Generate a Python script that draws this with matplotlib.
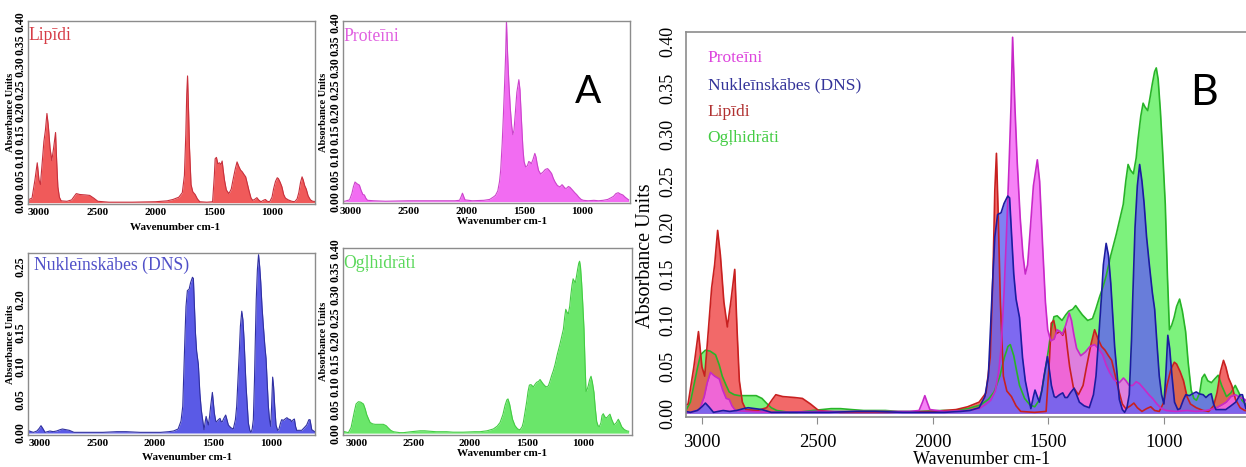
import matplotlib
matplotlib.use('Agg')
import matplotlib.pyplot as plt

W, H = 1246, 467

# spectra: wavenumber (cm-1) and absorbance
lipid_wn = [3095, 3060, 3035, 3015, 3000, 2988, 2972, 2958, 2945, 2932, 2920, 2905, 2890, 2875,
            2858, 2848, 2838, 2825, 2810, 2760, 2720, 2695, 2680, 2650, 2600, 2565, 2530, 2495,
            2400, 2200, 2000, 1900, 1850, 1800, 1770, 1752, 1740, 1732, 1725, 1718, 1708, 1695,
            1680, 1660, 1640, 1620, 1560, 1510, 1495, 1488, 1477, 1465, 1450, 1438, 1428, 1418,
            1408, 1392, 1370, 1350, 1335, 1315, 1300, 1285, 1270, 1255, 1240, 1226, 1210, 1197,
            1180, 1165, 1145, 1130, 1115, 1095, 1075, 1057, 1040, 1020, 1000, 986, 970, 955, 945,
            930, 915, 900, 885, 860, 830, 806, 785, 770, 755, 742, 732, 720, 706, 690, 670, 650, 600]
lipid_ab = [0.006, 0.010, 0.050, 0.088, 0.050, 0.040, 0.090, 0.135, 0.160, 0.197, 0.170, 0.120,
            0.093, 0.120, 0.155, 0.090, 0.035, 0.012, 0.004, 0.003, 0.006, 0.015, 0.020, 0.018,
            0.017, 0.016, 0.010, 0.003, 0.001, 0.001, 0.002, 0.004, 0.007, 0.012, 0.022, 0.060,
            0.150, 0.240, 0.280, 0.220, 0.120, 0.040, 0.024, 0.018, 0.008, 0.002, 0.001, 0.002,
            0.060, 0.097, 0.100, 0.086, 0.088, 0.084, 0.092, 0.070, 0.050, 0.028, 0.020, 0.030,
            0.050, 0.075, 0.090, 0.080, 0.072, 0.068, 0.062, 0.057, 0.040, 0.026, 0.010, 0.005,
            0.008, 0.011, 0.006, 0.002, 0.005, 0.007, 0.003, 0.002, 0.012, 0.031, 0.047, 0.055,
            0.053, 0.045, 0.035, 0.018, 0.010, 0.006, 0.003, 0.002, 0.008, 0.022, 0.045, 0.057,
            0.050, 0.038, 0.030, 0.015, 0.006, 0.003, 0.002]

protein_wn = [3095, 3050, 3010, 2990, 2977, 2963, 2945, 2925, 2910, 2895, 2882, 2870, 2855, 2800,
              2700, 2500, 2300, 2100, 2060, 2045, 2035, 2025, 2013, 1950, 1850, 1800, 1770, 1750,
              1730, 1715, 1705, 1692, 1682, 1670, 1662, 1655, 1645, 1635, 1622, 1610, 1600, 1590,
              1578, 1565, 1548, 1538, 1525, 1513, 1503, 1490, 1475, 1462, 1450, 1440, 1425, 1410,
              1400, 1390, 1378, 1360, 1340, 1320, 1300, 1285, 1265, 1250, 1235, 1215, 1193, 1175,
              1164, 1150, 1135, 1120, 1106, 1085, 1065, 1049, 1030, 1010, 990, 950, 900, 860, 820,
              780, 750, 730, 710, 690, 670, 650, 630, 600]
protein_ab = [0.001, 0.001, 0.004, 0.018, 0.033, 0.044, 0.040, 0.037, 0.025, 0.016, 0.015, 0.008,
              0.003, 0.002, 0.001, 0.002, 0.002, 0.002, 0.003, 0.012, 0.019, 0.012, 0.004, 0.002,
              0.003, 0.005, 0.010, 0.014, 0.024, 0.045, 0.070, 0.130, 0.190, 0.270, 0.330, 0.405,
              0.330, 0.270, 0.210, 0.170, 0.150, 0.160, 0.200, 0.245, 0.273, 0.250, 0.180, 0.120,
              0.090, 0.078, 0.080, 0.090, 0.088, 0.085, 0.095, 0.108, 0.100, 0.085, 0.070, 0.062,
              0.066, 0.072, 0.074, 0.070, 0.063, 0.052, 0.044, 0.036, 0.033, 0.038, 0.035, 0.030,
              0.030, 0.034, 0.032, 0.026, 0.020, 0.016, 0.010, 0.005, 0.003, 0.002, 0.003, 0.002,
              0.003, 0.005, 0.009, 0.012, 0.018, 0.020, 0.017, 0.015, 0.010, 0.004]

dna_wn = [3100, 3070, 3050, 3020, 3000, 2985, 2970, 2950, 2930, 2908, 2880, 2850, 2820, 2800,
          2770, 2740, 2700, 2600, 2450, 2330, 2250, 2130, 1950, 1880, 1840, 1800, 1775, 1760,
          1750, 1740, 1732, 1720, 1705, 1692, 1676, 1668, 1660, 1650, 1640, 1625, 1612, 1600,
          1588, 1576, 1565, 1558, 1548, 1539, 1528, 1519, 1504, 1495, 1487, 1475, 1467, 1452,
          1438, 1428, 1418, 1405, 1389, 1378, 1366, 1345, 1323, 1305, 1294, 1280, 1271, 1262,
          1250, 1240, 1230, 1213, 1200, 1193, 1180, 1170, 1160, 1150, 1140, 1135, 1125, 1115,
          1105, 1095, 1086, 1075, 1063, 1050, 1040, 1030, 1020, 1010, 1000, 992, 983, 975, 965,
          954, 940, 930, 915, 905, 890, 876, 860, 847, 830, 818, 805, 795, 785, 775, 750, 732,
          710, 689, 670, 660, 645, 620, 600]
dna_ab = [0.004, 0.002, 0.001, 0.003, 0.007, 0.011, 0.007, 0.001, 0.002, 0.003, 0.002, 0.003,
          0.005, 0.006, 0.005, 0.004, 0.001, 0.001, 0.001, 0.002, 0.002, 0.001, 0.001, 0.002,
          0.003, 0.006, 0.018, 0.040, 0.095, 0.150, 0.190, 0.214, 0.216, 0.226, 0.234, 0.232,
          0.195, 0.150, 0.123, 0.103, 0.060, 0.035, 0.020, 0.005, 0.018, 0.025, 0.018, 0.012,
          0.025, 0.040, 0.061, 0.045, 0.030, 0.018, 0.017, 0.020, 0.022, 0.017, 0.017, 0.022,
          0.027, 0.020, 0.012, 0.008, 0.006, 0.020, 0.040, 0.090, 0.123, 0.160, 0.183, 0.170,
          0.140, 0.071, 0.035, 0.015, 0.004, 0.001, 0.006, 0.020, 0.080, 0.123, 0.200, 0.245,
          0.268, 0.250, 0.227, 0.190, 0.160, 0.130, 0.112, 0.075, 0.040, 0.020, 0.010, 0.040,
          0.084, 0.070, 0.040, 0.012, 0.004, 0.005, 0.015, 0.020, 0.019, 0.021, 0.023, 0.021,
          0.020, 0.017, 0.020, 0.021, 0.010, 0.004, 0.004, 0.004, 0.008, 0.012, 0.020, 0.020,
          0.005, 0.002, 0.001]

carb_wn = [3120, 3074, 3050, 3035, 3020, 3006, 2985, 2965, 2941, 2925, 2912, 2895, 2882, 2860,
           2838, 2800, 2765, 2740, 2721, 2700, 2676, 2620, 2588, 2520, 2441, 2400, 2353, 2300,
           2206, 2150, 2059, 1960, 1912, 1850, 1794, 1760, 1735, 1710, 1691, 1675, 1665, 1650,
           1641, 1625, 1603, 1580, 1559, 1540, 1529, 1515, 1500, 1488, 1476, 1462, 1441, 1425,
           1412, 1395, 1382, 1365, 1353, 1330, 1309, 1295, 1279, 1265, 1250, 1230, 1206, 1190,
           1176, 1165, 1155, 1145, 1132, 1120, 1112, 1100, 1090, 1082, 1070, 1060, 1050, 1040,
           1033, 1025, 1015, 1005, 994, 985, 976, 966, 956, 945, 932, 920, 906, 895, 882, 870,
           859, 845, 835, 824, 810, 794, 780, 765, 750, 729, 710, 691, 675, 662, 640, 618, 600]
carb_ab = [0.004, 0.001, 0.012, 0.030, 0.048, 0.063, 0.068, 0.067, 0.063, 0.052, 0.040, 0.030,
           0.023, 0.020, 0.019, 0.019, 0.019, 0.016, 0.011, 0.006, 0.003, 0.001, 0.001, 0.003,
           0.005, 0.005, 0.004, 0.003, 0.003, 0.002, 0.002, 0.003, 0.003, 0.005, 0.009, 0.015,
           0.023, 0.040, 0.060, 0.072, 0.074, 0.062, 0.050, 0.030, 0.016, 0.009, 0.007, 0.014,
           0.024, 0.045, 0.068, 0.090, 0.104, 0.105, 0.100, 0.106, 0.110, 0.112, 0.116, 0.110,
           0.106, 0.100, 0.102, 0.112, 0.125, 0.135, 0.148, 0.170, 0.193, 0.210, 0.225, 0.250,
           0.268, 0.262, 0.258, 0.275, 0.295, 0.320, 0.334, 0.330, 0.326, 0.340, 0.355, 0.368,
           0.372, 0.360, 0.325, 0.280, 0.225, 0.150, 0.090, 0.095, 0.103, 0.115, 0.123, 0.110,
           0.088, 0.055, 0.025, 0.016, 0.014, 0.022, 0.038, 0.042, 0.035, 0.033, 0.037, 0.041,
           0.030, 0.018, 0.022, 0.030, 0.022, 0.014, 0.008, 0.005, 0.004]

names = ['Lipīdi', 'Proteīni', 'Nukleīnskābes (DNS)', 'Ogļhidrāti']
wn_ticks = [3000, 2500, 2000, 1500, 1000]
ab_ticks = [0.00, 0.05, 0.10, 0.15, 0.20, 0.25, 0.30, 0.35, 0.40]
dna_ticks = [0.00, 0.05, 0.10, 0.15, 0.20, 0.25]

plt.rcParams['font.family'] = ['Liberation Serif', 'DejaVu Serif']

fig = plt.figure(figsize=(W / 100, H / 100), dpi=100)


def rect(l, t, r, b):
    return [l / W, 1 - b / H, (r - l) / W, (b - t) / H]


def put(x, y, s, **kw):
    fig.text(x / W, 1 - y / H, s, **kw)


def small_panel(box, wn, ab, fill, edge, xlim, ylim, yt):
    ax = fig.add_axes(rect(*box))
    ax.fill_between(wn, ab, 0, color=fill, lw=0)
    ax.plot(wn, ab, color=edge, lw=0.8)
    ax.set_xlim(*xlim)
    ax.set_ylim(*ylim)
    ax.set_xticks(wn_ticks)
    ax.set_xticklabels([str(v) for v in wn_ticks], fontsize=8, fontweight='bold')
    ax.set_yticks(yt)
    ax.set_yticklabels(['%.2f' % v for v in yt], rotation=90, va='center',
                       fontsize=8.5, fontweight='bold')
    ax.tick_params(axis='x', length=0, pad=3)
    ax.tick_params(axis='y', length=0, pad=1)
    for s in ax.spines.values():
        s.set_color('#8c8c8c')
        s.set_linewidth(1)
    return ax


# --- A: separate spectra ---
small_panel((27.7, 20.7, 315, 204), lipid_wn, lipid_ab, '#f05a5a', '#c8303c',
            (3097, 631), (-0.003, 0.402), ab_ticks)
small_panel((343.3, 20.7, 630, 203), protein_wn, protein_ab, '#f26cf2', '#cc44cc',
            (3064, 588), (-0.003, 0.405), ab_ticks)
small_panel((27.7, 253.3, 315, 435), dna_wn, dna_ab, '#5a5ae6', '#3030a0',
            (3100, 617), (-0.003, 0.27), dna_ticks)
small_panel((342.7, 248.3, 631.7, 434.5), carb_wn, carb_ab, '#6ae66a', '#44cc44',
            (3124, 573), (-0.003, 0.40), ab_ticks)

title_kw = dict(fontsize=12.7, va='center', ha='left')
put(28.5, 35, names[0], color='#d63c46', **title_kw)
put(343.5, 36.7, names[1], color='#e060e0', **title_kw)
put(33.5, 265, names[2], color='#5050c8', **title_kw)
put(343.5, 263, names[3], color='#5ad85a', **title_kw)

lab_kw = dict(fontsize=7.5, fontweight='bold', ha='center', va='center')
for x, y in [(11, 112), (324, 112), (11, 344), (324, 341)]:
    put(x, y, 'Absorbance Units', rotation=90, **lab_kw)
for x, y in [(175, 228), (502, 221), (187, 457), (502, 453)]:
    put(x, y, 'Wavenumber cm-1', fontsize=8, fontweight='bold', ha='center', va='center')

put(588, 92, 'A', family='Lato', fontsize=28, ha='center', va='center')

# --- B: overlay ---
axb = fig.add_axes(rect(686, 31.7, 1278, 417))
overlay = [
    (carb_wn, carb_ab, '#60f060', '#28b428'),
    (lipid_wn, lipid_ab, '#f04848', '#c82020'),
    (protein_wn, protein_ab, '#f466f4', '#c828c8'),
    (dna_wn, dna_ab, '#6464f0', '#1c1ca0'),
]
for wn, ab, fill, edge in overlay:
    axb.fill_between(wn, ab, 0, color=fill, alpha=0.82, lw=0)
    axb.plot(wn, ab, color=edge, lw=1.2)
axb.set_xlim(3069, 506)
axb.set_ylim(-0.004, 0.411)
axb.set_xticks(wn_ticks)
axb.set_xticklabels([str(v) for v in wn_ticks], fontsize=13.5)
axb.set_yticks(ab_ticks)
axb.set_yticklabels(['%.2f' % v for v in ab_ticks], rotation=90, va='center', fontsize=13)
axb.tick_params(axis='x', length=5, pad=7, color='#8c8c8c')
axb.tick_params(axis='y', length=0, pad=7)
for s in axb.spines.values():
    s.set_color('#8c8c8c')
    s.set_linewidth(1.2)

put(645, 256, 'Absorbance Units', rotation=90, fontsize=14.5, ha='center', va='center')
put(982, 460, 'Wavenumber cm-1', fontsize=13, ha='center', va='center')

leg = [(names[1], '#dd44dd'), (names[2], '#333399'), (names[0], '#b03030'), (names[3], '#44cc44')]
for i, (s, c) in enumerate(leg):
    put(707.7, 58.3 + i * 26.7, s, color=c, fontsize=12.5, ha='left', va='center')

put(1203.5, 93, 'B', family='Lato', fontsize=31, ha='center', va='center')

fig.savefig('out.png', dpi=100)
